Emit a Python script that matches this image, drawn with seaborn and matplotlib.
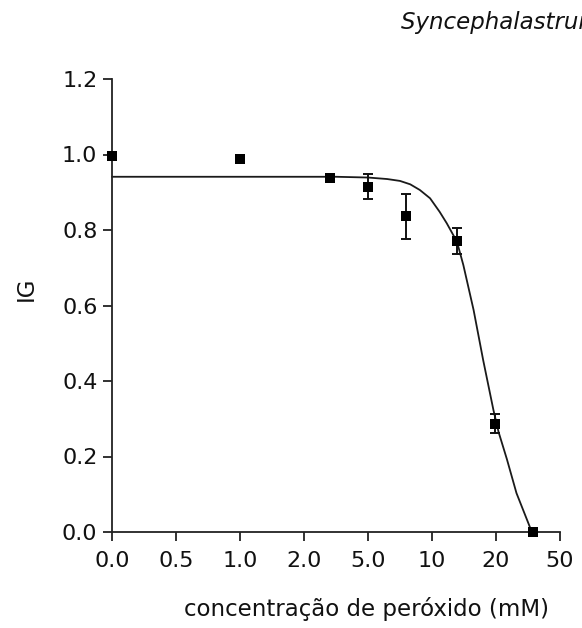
import matplotlib
matplotlib.use("Agg")
import matplotlib.pyplot as plt
import seaborn as sns
import pandas as pd
import numpy as np

# ---- data ----
tick_pos = [0, 1, 2, 3, 4, 5, 6, 7]
tick_labels = ["0.0", "0.5", "1.0", "2.0", "5.0", "10", "20", "50"]

point_x = [0.0, 2.0, 3.4, 4.0, 4.59, 5.39, 5.98, 6.58]
point_y = [0.995, 0.987, 0.937, 0.915, 0.836, 0.771, 0.287, 0.0]
point_err = [0.0, 0.0, 0.0, 0.033, 0.06, 0.035, 0.025, 0.0]

curve_x = [0.0, 3.5, 4.0, 4.3, 4.5, 4.66, 4.81, 4.97, 5.12, 5.23, 5.39,
           5.49, 5.65, 5.80, 5.96, 6.04, 6.17, 6.32, 6.56]
curve_y = [0.941, 0.941, 0.939, 0.935, 0.930, 0.921, 0.906, 0.884, 0.848,
           0.818, 0.769, 0.707, 0.588, 0.455, 0.323, 0.265, 0.193, 0.103, 0.0]

title_text = "Syncephalastrum racemosum"
xlabel_text = "concentração de peróxido (mM)"
ylabel_text = "IG"

# ---- style ----
sns.set_style("ticks")
plt.rcParams["font.family"] = ["DejaVu Sans"]

W, H = 582, 628
fig = plt.figure(figsize=(W / 100, H / 100), dpi=100)
ax = fig.add_axes([112 / W, 1 - 532 / H, (560 - 112) / W, (532 - 79) / H])

pts = pd.DataFrame({"x": point_x, "y": point_y, "err": point_err})
crv = pd.DataFrame({"x": curve_x, "y": curve_y})

sns.lineplot(data=crv, x="x", y="y", ax=ax, color="#1a1a1a", lw=1.3,
             sort=False, estimator=None, clip_on=False)
eb = pts[pts["err"] > 0]
ax.errorbar(eb["x"], eb["y"], yerr=eb["err"], fmt="none", ecolor="#111111",
            elinewidth=1.4, capsize=3.6, capthick=1.4, clip_on=False, zorder=3)
sns.scatterplot(data=pts, x="x", y="y", ax=ax, marker="s", s=44,
                color="#000000", edgecolor="#000000", linewidth=0,
                clip_on=False, zorder=4)

ax.set_xlim(0, 7)
ax.set_ylim(0, 1.2)
ax.set_xticks(tick_pos)
ax.set_xticklabels(tick_labels)
ax.set_yticks([0.0, 0.2, 0.4, 0.6, 0.8, 1.0, 1.2])
ax.set_yticklabels(["0.0", "0.2", "0.4", "0.6", "0.8", "1.0", "1.2"])

for s in ["top", "right"]:
    ax.spines[s].set_visible(False)
for s in ["left", "bottom"]:
    ax.spines[s].set_linewidth(1.3)
    ax.spines[s].set_color("#222222")

ax.tick_params(axis="both", direction="out", length=6.5, width=1.3,
               color="#222222", labelsize=16, labelcolor="#111111")
ax.tick_params(axis="x", pad=7)
ax.tick_params(axis="y", pad=4)

ax.set_xlabel(xlabel_text, fontsize=16.5, color="#111111")
ax.set_ylabel(ylabel_text, fontsize=16.5, color="#111111")
ax.xaxis.set_label_coords((367 - 112) / 448, (532 - 597) / 453)
ax.yaxis.set_label_coords((38 - 112) / 448, (532 - 289) / 453)

fig.text(401 / W, 1 - 29.5 / H, title_text, fontsize=16.5, style="italic",
         ha="left", va="baseline", color="#111111")

fig.savefig("out.png", dpi=100)
